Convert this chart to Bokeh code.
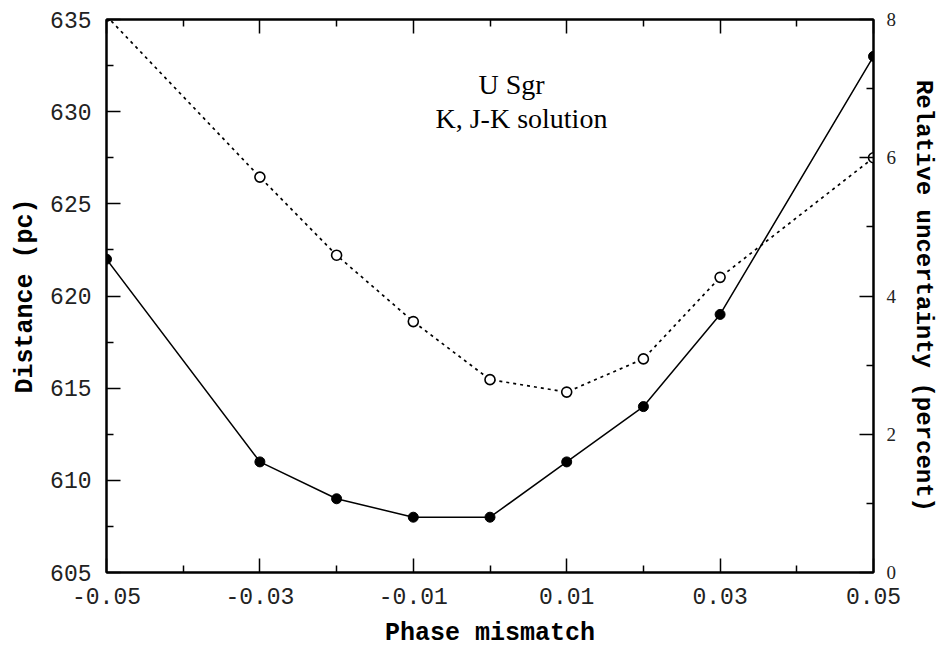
from bokeh.plotting import figure
from bokeh.models import (Range1d, LinearAxis, FixedTicker, Label,
                          PrintfTickFormatter, CustomLabelingPolicy)
from bokeh.embed import file_html
from bokeh.resources import INLINE

# ---- data ----
phase = [-0.05, -0.03, -0.02, -0.01, 0.0, 0.01, 0.02, 0.03, 0.05]
distance_pc = [622, 611, 609, 608, 608, 611, 614, 619, 633]
rel_uncertainty = [8.05, 5.72, 4.59, 3.63, 2.79, 2.61, 3.09, 4.27, 6.0]

x_major = [-0.05, -0.03, -0.01, 0.01, 0.03, 0.05]
x_minor = [-0.04, -0.02, 0.0, 0.02, 0.04]
left_major = [605, 610, 615, 620, 625, 630, 635]
left_minor = [607.5, 612.5, 617.5, 622.5, 627.5, 632.5]
right_major = [0, 2, 4, 6, 8]
right_minor = [1, 3, 5, 7]

title_lines = ["U Sgr", "K, J-K solution"]

MONO = "Liberation Mono"
SERIF = "Liberation Serif"

p = figure(width=940, height=650, output_backend="svg", toolbar_location=None,
           x_range=Range1d(-0.05, 0.05), y_range=Range1d(605, 635),
           min_border_left=106, min_border_right=67, min_border_top=19,
           min_border_bottom=77)
p.xaxis.visible = False
p.yaxis.visible = False
p.grid.visible = False
p.outline_line_color = "black"
p.outline_line_width = 2
p.background_fill_color = "white"
p.border_fill_color = "white"
p.extra_y_ranges = {"right": Range1d(0, 8)}


def style(ax):
    ax.axis_line_width = 2
    ax.axis_line_color = "black"
    ax.major_tick_in = 14
    ax.major_tick_out = 0
    ax.minor_tick_in = 7
    ax.minor_tick_out = 0
    ax.major_tick_line_width = 1.5
    ax.minor_tick_line_width = 1.5
    ax.major_tick_line_color = "black"
    ax.minor_tick_line_color = "black"
    ax.major_label_text_color = "#222222"
    ax.axis_label_text_font_style = "bold"
    ax.axis_label_text_font = MONO
    ax.axis_label_text_font_size = "25px"
    ax.axis_label_text_color = "black"


xt = FixedTicker(ticks=x_major, minor_ticks=x_minor)

bottom = LinearAxis(ticker=xt, axis_label="Phase mismatch",
                    formatter=PrintfTickFormatter(format="%.2f"))
style(bottom)
bottom.major_label_text_font = MONO
bottom.major_label_text_font_size = "23px"
bottom.major_label_standoff = 15
bottom.axis_label_standoff = 12
p.add_layout(bottom, "below")

top = LinearAxis(ticker=xt)
style(top)
top.major_label_text_font_size = "1px"
top.major_label_standoff = 0
top.major_label_policy = CustomLabelingPolicy(
    code="for (const i of Array.from(indices)) { indices.unset(i) }")
p.add_layout(top, "above")

left = LinearAxis(ticker=FixedTicker(ticks=left_major, minor_ticks=left_minor),
                  axis_label="Distance (pc)")
style(left)
left.major_label_text_font = MONO
left.major_label_text_font_size = "23px"
left.major_label_standoff = 15
left.axis_label_standoff = 7
p.add_layout(left, "left")

right = LinearAxis(y_range_name="right",
                   ticker=FixedTicker(ticks=right_major, minor_ticks=right_minor),
                   axis_label="Relative uncertainty (percent)")
style(right)
right.major_label_text_font = SERIF
right.major_label_text_font_size = "19px"
right.major_label_standoff = 13
right.axis_label_standoff = 11
right.axis_label_text_font_size = "24px"
p.add_layout(right, "right")

# distance series (solid line, filled circles)
p.line(phase, distance_pc, line_color="black", line_width=1.5)
p.scatter(phase, distance_pc, size=10, marker="circle",
          fill_color="black", line_color="black")

# relative uncertainty (dotted line, open circles)
p.line(phase, rel_uncertainty, y_range_name="right", line_color="black",
       line_width=1.7, line_dash="3 4")
p.scatter(phase, rel_uncertainty, y_range_name="right", size=10,
          marker="circle", fill_color="white", line_color="black",
          line_width=1.6)

p.add_layout(Label(x=0.0028, y=631.5, text=title_lines[0], text_align="center",
                   text_baseline="alphabetic", text_font=SERIF,
                   text_font_size="28px", text_color="black"))
p.add_layout(Label(x=0.0041, y=629.65, text=title_lines[1], text_align="center",
                   text_baseline="alphabetic", text_font=SERIF,
                   text_font_size="28px", text_color="black"))

open("out.html", "w").write(file_html(p, INLINE))
